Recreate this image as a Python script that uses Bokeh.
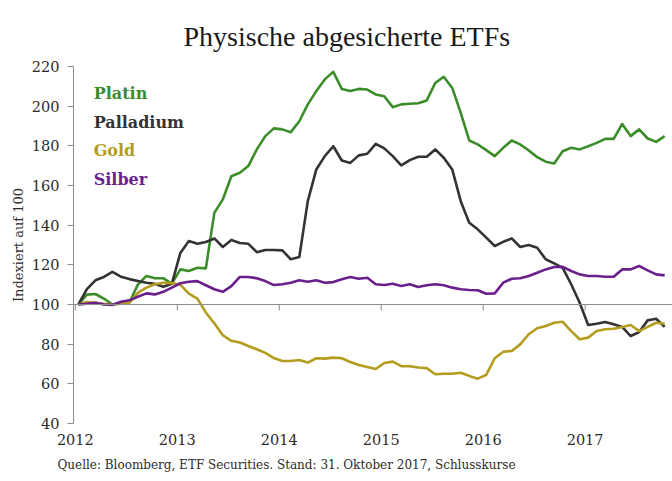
import numpy as np
from bokeh.plotting import figure
from bokeh.models import Span, Label, Title, FixedTicker
from bokeh.embed import file_html
from bokeh.resources import INLINE

# monthly observations, Jan 2012 .. Oct 2017 (index = 100 at start)
months = np.arange(70)
t = 2012.03 + months / 12.0

platin = [100, 105, 105.3, 103, 100, 100.5, 101, 110, 114.4, 113.2, 113.2, 110.5,
          117.7, 116.9, 118.5, 118.2, 146.2, 153, 164.7, 166.4, 169.8, 178.2, 184.9, 188.8,
          188.3, 186.9, 192.4, 200.9, 207.6, 213.5, 217.3, 208.7, 207.6, 208.7, 208.4, 205.9,
          205, 199.5, 200.9, 201.2, 201.5, 202.9, 211.7, 214.8, 209.2, 196.6, 182.7, 180.7,
          177.8, 174.8, 179, 182.7, 180.7, 177.7, 174.3, 172, 171.1, 177.3, 179, 178.2,
          179.8, 181.5, 183.5, 183.5, 191, 184.9, 188.3, 183.7, 182, 184.9]
palladium = [100, 107.7, 112.2, 113.9, 116.4, 114, 112.8, 111.8, 111, 110.5, 109, 110.5,
             126, 132, 130.6, 131.5, 133.3, 129, 132.5, 131, 130.6, 126.4, 127.5, 127.5,
             127.3, 122.8, 123.9, 152.1, 168.1, 174.8, 179.8, 172.6, 171.4, 175.2, 176, 181,
             178.7, 174.8, 170.1, 172.8, 174.5, 174.5, 178.2, 174, 168.1, 152.1, 141.2, 137.9,
             133.7, 129.5, 131.6, 133.3, 129, 130, 128.6, 122.8, 120.7, 118.5, 110.2, 100.9,
             89.7, 90.3, 91.2, 90, 88.7, 84.1, 86.1, 92, 92.8, 88.7]
gold = [100, 101.3, 100.9, 100.3, 100, 100.4, 100.9, 105.9, 108.5, 110.2, 111, 110.8,
        110, 105.5, 103, 96, 90.5, 84.5, 81.7, 80.8, 79.1, 77.4, 75.6, 73,
        71.5, 71.5, 72, 70.7, 72.9, 72.7, 73.2, 72.9, 71, 69.5, 68.5, 67.5,
        70.5, 71.2, 68.9, 68.9, 68.2, 67.9, 64.8, 65.1, 65.1, 65.6, 64, 62.6,
        64.5, 72.9, 76.2, 76.6, 79.9, 85, 88, 89.2, 90.8, 91.3, 86.6, 82.5,
        83.3, 86.6, 87.5, 87.8, 88.7, 89.7, 86.6, 88.7, 90.8, 90.3]
silber = [100, 100.4, 100.9, 100, 99.8, 101.4, 102.1, 103.9, 105.6, 105.1, 106.4, 108.5,
          110.7, 111.5, 111.8, 109.7, 107.7, 106.4, 109.3, 113.9, 113.9, 113.2, 111.8, 109.8,
          110.2, 111, 112.2, 111.5, 112.2, 111, 111.3, 112.7, 113.9, 113, 113.5, 110.2,
          109.8, 110.5, 109.3, 110.2, 108.8, 109.7, 110.2, 109.7, 108.5, 107.7, 107.3, 107.2,
          105.4, 105.6, 111, 113, 113.2, 114.4, 116, 117.7, 118.9, 119, 116.9, 115.2,
          114.4, 114.4, 114, 114, 117.7, 117.7, 119.4, 117.2, 115.2, 114.7]

years = [2012, 2013, 2014, 2015, 2016, 2017]
y_ticks = [40, 60, 80, 100, 120, 140, 160, 180, 200, 220]
series_names = ["Platin", "Palladium", "Gold", "Silber"]
colors = ["#3c8c2a", "#333333", "#b39c1e", "#6b1f8c"]
legend_y = [206.5, 192, 177.6, 163.2]
baseline = 100

serif = "DejaVu Serif"
txt = "#2b2b2b"

p = figure(width=672, height=481, output_backend="svg", toolbar_location=None,
           x_range=(2011.982, 2017.857), y_range=(40, 220),
           min_border_left=73, min_border_right=0, min_border_top=66, min_border_bottom=58)
p.outline_line_color = None
p.grid.grid_line_color = None
p.background_fill_color = "white"
p.border_fill_color = "white"

# title
p.title.text = "Physische abgesicherte ETFs"
p.title.text_font = "Liberation Serif"
p.title.text_font_size = "28px"
p.title.text_font_style = "normal"
p.title.text_color = "#1a1a1a"
p.title.align = "left"
p.title.offset = 110
p.title.standoff = 30

# y axis
p.yaxis.ticker = FixedTicker(ticks=y_ticks)
p.yaxis.axis_line_color = "#8c8c8c"
p.yaxis.major_tick_line_color = "#8c8c8c"
p.yaxis.major_tick_out = 6
p.yaxis.major_tick_in = 0
p.yaxis.minor_tick_line_color = None
p.yaxis.major_label_text_font = serif
p.yaxis.major_label_text_font_size = "14.5px"
p.yaxis.major_label_text_color = txt
p.yaxis.major_label_standoff = 8
p.yaxis.axis_label = "Indexiert auf 100"
p.yaxis.axis_label_text_font = serif
p.yaxis.axis_label_text_font_size = "13px"
p.yaxis.axis_label_text_font_style = "normal"
p.yaxis.axis_label_text_color = txt
p.yaxis.axis_label_standoff = 3

# x axis (labels only; the axis line is drawn at 100)
p.xaxis.ticker = FixedTicker(ticks=years)
p.xaxis.axis_line_color = None
p.xaxis.major_tick_line_color = None
p.xaxis.major_tick_out = 0
p.xaxis.major_tick_in = 0
p.xaxis.minor_tick_line_color = None
p.xaxis.major_label_text_font = serif
p.xaxis.major_label_text_font_size = "14.5px"
p.xaxis.major_label_text_color = txt
p.xaxis.major_label_standoff = 10

p.add_layout(Span(location=baseline, dimension="width", line_color="#8c8c8c", line_width=1))
p.segment(x0=years, y0=[baseline] * len(years), x1=years, y1=[baseline - 3] * len(years),
          line_color="#8c8c8c", line_width=1)

for name, vals, col in zip(series_names, [platin, palladium, gold, silber], colors):
    p.line(t, vals, line_color=col, line_width=2.6, line_join="round")

for name, col, ly in zip(series_names, colors, legend_y):
    p.add_layout(Label(x=2012.18, y=ly, text=name, text_color=col, text_font=serif,
                       text_font_size="16px", text_font_style="bold", text_baseline="middle"))

src = Title(text="Quelle: Bloomberg, ETF Securities. Stand: 31. Oktober 2017, Schlusskurse",
            align="left", offset=-16, text_font=serif, text_font_size="12px",
            text_font_style="normal", text_color=txt, standoff=17)
p.add_layout(src, "below")

open("out.html", "w").write(file_html(p, INLINE))
